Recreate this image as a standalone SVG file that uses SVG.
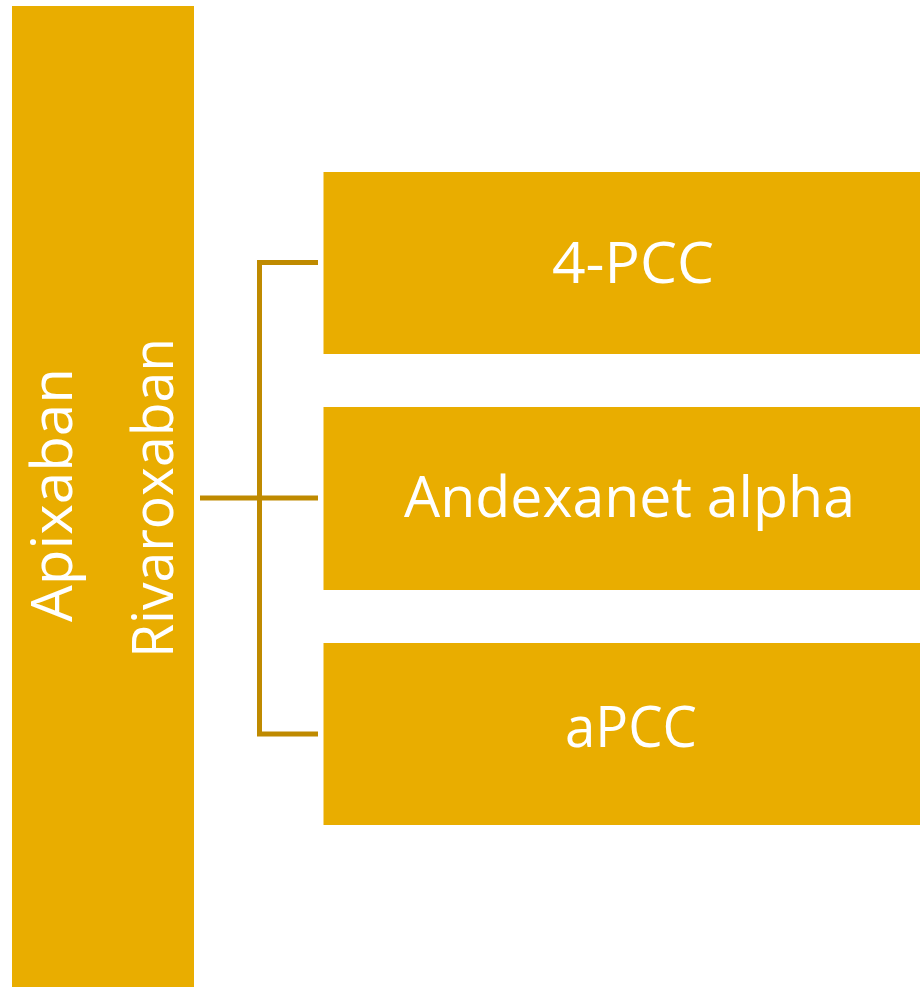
<svg xmlns="http://www.w3.org/2000/svg" width="920" height="987" viewBox="0 0 920 987">
<style>
.box{fill:#E9AD00}
.lbl{fill:#FFFFFF;font-family:"Open Sans","Noto Sans",sans-serif;font-size:57px;text-anchor:middle}
.conn{fill:none;stroke:#BF8A00;stroke-width:5}
</style>
<rect width="920" height="987" fill="#FFFFFF"/>
<g id="node-left">
<rect class="box" x="12" y="6" width="182" height="981"/>
<text class="lbl" transform="translate(72,495) rotate(-90)" textLength="254" lengthAdjust="spacingAndGlyphs">Apixaban</text>
<text class="lbl" transform="translate(173,498) rotate(-90)" textLength="320" lengthAdjust="spacingAndGlyphs">Rivaroxaban</text>
</g>
<g id="connectors">
<path class="conn" d="M318,262.5 H259.5 V734 H318"/>
<path class="conn" d="M200,498 H318"/>
</g>
<g id="node-4pcc">
<rect class="box" x="323.5" y="172" width="596.5" height="182"/>
<text class="lbl" x="633" y="283" textLength="162" lengthAdjust="spacingAndGlyphs">4-PCC</text>
</g>
<g id="node-andexanet">
<rect class="box" x="323.5" y="407" width="596.5" height="183"/>
<text class="lbl" x="629.5" y="517" textLength="451" lengthAdjust="spacingAndGlyphs">Andexanet alpha</text>
</g>
<g id="node-apcc">
<rect class="box" x="323.5" y="643" width="596.5" height="182"/>
<text class="lbl" x="631" y="747" textLength="132" lengthAdjust="spacingAndGlyphs">aPCC</text>
</g>
</svg>
